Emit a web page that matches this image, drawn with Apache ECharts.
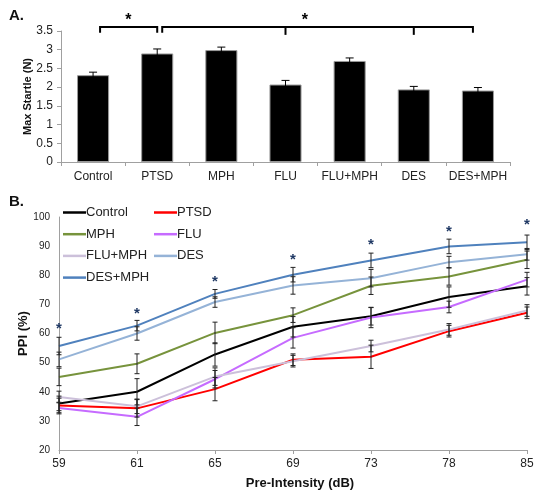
<!DOCTYPE html>
<html><head><meta charset="utf-8">
<script src="https://cdn.jsdelivr.net/npm/echarts@6/dist/echarts.min.js"></script>
<style>html,body{margin:0;padding:0;background:#fff}#c{width:537px;height:491px}</style>
</head><body><div id="c"></div>
<script>
// ---------- Panel A data ----------
const groupsA = ['Control','PTSD','MPH','FLU','FLU+MPH','DES','DES+MPH'];
const startleA = [2.32, 2.90, 2.99, 2.07, 2.70, 1.94, 1.91];
const startleErrA = [0.08, 0.12, 0.08, 0.11, 0.08, 0.08, 0.08];
const bracketFrom = [0, 1];
const bracketTo = [1, 6];
const bracketTicks = [[], [3, 5]];
const bracketStarPos = [0.55, 3.3];

// ---------- Panel B data ----------
const intensities = ['59','61','65','69','73','78','85'];
const ppiControl = [36.0, 40.0, 52.8, 62.3, 65.9, 72.5, 76.2];
const ppiPTSD    = [35.3, 34.3, 40.9, 51.0, 52.0, 60.8, 67.1];
const ppiMPH     = [45.1, 49.6, 60.2, 66.3, 76.4, 79.6, 85.3];
const ppiFLU     = [34.4, 31.4, 44.3, 58.5, 65.5, 69.1, 78.5];
const ppiFLUMPH  = [38.2, 35.0, 45.2, 50.5, 55.7, 61.4, 67.9];
const ppiDES     = [51.1, 60.0, 70.8, 76.5, 79.0, 84.5, 87.2];
const ppiDESMPH  = [55.7, 62.7, 73.6, 80.2, 85.1, 89.9, 91.3];
const errControl = [2.5, 4.5, 4.0, 3.5, 3.0, 3.5, 3.0];
const errPTSD    = [2.5, 3.0, 4.0, 2.0, 4.0, 2.0, 2.0];
const errMPH     = [3.0, 3.4, 3.7, 2.5, 3.0, 3.0, 3.0];
const errFLU     = [2.0, 3.0, 3.0, 3.5, 3.5, 2.0, 2.5];
const errFLUMPH  = [2.0, 2.5, 3.0, 2.0, 2.0, 2.0, 2.0];
const errDES     = [2.5, 2.3, 1.8, 3.0, 3.0, 2.0, 2.0];
const errDESMPH  = [3.0, 1.8, 1.5, 2.5, 2.5, 2.5, 2.5];
const starLevels = [63.0, 68.2, 79.0, 86.7, 91.9, 96.1, 98.7];

const FONT = 'Liberation Sans, Arial, sans-serif';
const seriesB = [
  {name:'Control', data: ppiControl, err: errControl, color:'#000000'},
  {name:'PTSD',    data: ppiPTSD,    err: errPTSD,    color:'#ff0000'},
  {name:'MPH',     data: ppiMPH,     err: errMPH,     color:'#77933c'},
  {name:'FLU',     data: ppiFLU,     err: errFLU,     color:'#c66bff'},
  {name:'FLU+MPH', data: ppiFLUMPH,  err: errFLUMPH,  color:'#ccc0da'},
  {name:'DES',     data: ppiDES,     err: errDES,     color:'#95b3d7'},
  {name:'DES+MPH', data: ppiDESMPH,  err: errDESMPH,  color:'#4f81bd'}
];

function errRender(capHalf, color) {
  return function (params, api) {
    const x = api.value(0), y = api.value(1), e = api.value(2);
    const hi = api.coord([x, y + e]);
    const lo = api.coord([x, y - e]);
    const st = {stroke: color, lineWidth: 1};
    return {type:'group', children:[
      {type:'line', shape:{x1:hi[0], y1:hi[1], x2:lo[0], y2:lo[1]}, style:st},
      {type:'line', shape:{x1:hi[0]-capHalf, y1:hi[1], x2:hi[0]+capHalf, y2:hi[1]}, style:st},
      {type:'line', shape:{x1:lo[0]-capHalf, y1:lo[1], x2:lo[0]+capHalf, y2:lo[1]}, style:st}
    ]};
  };
}

const series = [];
// Panel A bars
series.push({
  type:'bar', xAxisIndex:0, yAxisIndex:0, data: startleA, barWidth:'50%',
  itemStyle:{color:'#000', borderColor:'#9a9a9a', borderWidth:1}, silent:true
});
series.push({
  type:'custom', xAxisIndex:0, yAxisIndex:0, silent:true, z:5,
  data: startleA.map((v,i)=>[i, v, startleErrA[i]]),
  renderItem: errRender(4, '#000')
});
// brackets
series.push({
  type:'custom', xAxisIndex:0, yAxisIndex:0, silent:true, clip:false, z:6,
  data: bracketFrom.map((f,i)=>[f, bracketTo[i], i]),
  renderItem: function(params, api){
    const i = api.value(2);
    const a = api.coord([bracketFrom[i], 3.61]);
    const b = api.coord([bracketTo[i], 3.61]);
    const base = api.coord([0, 3.45]);
    const st = {stroke:'#000', lineWidth:2};
    const xa = a[0] + (i === 0 ? 7 : 5);
    const xb = b[0] - (i === 0 ? 0 : 5);
    const ch = [
      {type:'polyline', shape:{points:[[xa, base[1]],[xa, a[1]],[xb, a[1]],[xb, base[1]]]}, style:Object.assign({fill:null}, st)}
    ];
    bracketTicks[i].forEach(t=>{
      const p = api.coord([t, 3.61]);
      ch.push({type:'line', shape:{x1:p[0], y1:p[1], x2:p[0], y2:base[1]+2}, style:st});
    });
    const c0 = api.coord([Math.floor(bracketStarPos[i]), 3.87]);
    const c1 = api.coord([Math.floor(bracketStarPos[i])+1, 3.87]);
    const fr = bracketStarPos[i] - Math.floor(bracketStarPos[i]);
    ch.push({type:'text', style:{text:'*', x:c0[0]+(c1[0]-c0[0])*fr, y:c0[1]+3, textAlign:'center', textVerticalAlign:'middle', font:'bold 16px '+FONT, fill:'#000'}});
    return {type:'group', children:ch};
  }
});

// Panel B lines
seriesB.forEach(s=>{
  series.push({
    name:s.name, type:'line', xAxisIndex:1, yAxisIndex:1, data:s.data,
    symbol:'none', lineStyle:{color:s.color, width:2}, itemStyle:{color:s.color},
    silent:true, z:2
  });
});
seriesB.forEach(s=>{
  series.push({
    type:'custom', xAxisIndex:1, yAxisIndex:1, silent:true, z:4,
    data: s.data.map((v,i)=>[i, v, s.err[i]]),
    renderItem: errRender(2.5, '#222')
  });
});
// stars panel B
series.push({
  type:'custom', xAxisIndex:1, yAxisIndex:1, silent:true, clip:false, z:6,
  data: starLevels.map((v,i)=>[i, v]),
  renderItem: function(params, api){
    const p = api.coord([api.value(0), api.value(1)]);
    return {type:'text', style:{text:'*', x:p[0], y:p[1]+4, textAlign:'center', textVerticalAlign:'middle', font:'bold 15px '+FONT, fill:'#1f3864'}};
  }
});

const axisLine = {show:true, lineStyle:{color:'#a0a0a0', width:1}};
const legendCommon = {
  orient:'vertical', itemWidth:23, itemHeight:14, itemGap:8.7, icon:'path://M0,6 L23,6 L23,8.5 L0,8.5 Z',
  textStyle:{fontSize:13, fontFamily:FONT, color:'#222', padding:[0,0,0,-5]}, selectedMode:false, padding:0
};

const option = {
  animation:false,
  backgroundColor:'#fff',
  title:[
    {text:'A.', left:4, top:3, textStyle:{fontSize:15, fontWeight:'bold', fontFamily:FONT, color:'#111'}},
    {text:'B.', left:4, top:189, textStyle:{fontSize:15, fontWeight:'bold', fontFamily:FONT, color:'#111'}}
  ],
  legend:[
    Object.assign({left:63, top:206, data:['Control','MPH','FLU+MPH','DES+MPH']}, legendCommon),
    Object.assign({left:154, top:206, data:['PTSD','FLU','DES']}, legendCommon)
  ],
  grid:[
    {left:61, right:27, top:31, height:131},
    {left:59, right:10, top:217, height:234}
  ],
  xAxis:[
    {type:'category', gridIndex:0, data:groupsA, boundaryGap:true, axisLine:axisLine,
     axisTick:{show:true, length:4, lineStyle:{color:'#a0a0a0'}},
     axisLabel:{fontSize:12, fontFamily:FONT, color:'#222', margin:9, interval:0}},
    {type:'category', gridIndex:1, data:intensities, boundaryGap:false, axisLine:axisLine,
     axisTick:{show:true, length:4, lineStyle:{color:'#a0a0a0'}},
     axisLabel:{fontSize:12, fontFamily:FONT, color:'#222', margin:8},
     name:'Pre-Intensity (dB)', nameLocation:'middle', nameGap:27, nameMoveOverlap:false,
     nameTextStyle:{fontSize:13, fontWeight:'bold', fontFamily:FONT, color:'#111', padding:[0,0,0,14]}}
  ],
  yAxis:[
    {type:'value', gridIndex:0, min:0, max:3.5, interval:0.5, axisLine:axisLine,
     axisTick:{show:true, length:4, lineStyle:{color:'#a0a0a0'}}, splitLine:{show:false},
     axisLabel:{fontSize:12, fontFamily:FONT, color:'#222', margin:8},
     name:'Max Startle (N)', nameLocation:'middle', nameGap:28, nameRotate:90, nameMoveOverlap:false,
     nameTextStyle:{fontSize:11, fontWeight:'bold', fontFamily:FONT, color:'#111'}},
    {type:'value', gridIndex:1, min:20, max:100, interval:10, axisLine:axisLine,
     axisTick:{show:false}, splitLine:{show:false},
     axisLabel:{fontSize:10, fontFamily:FONT, color:'#222', margin:9},
     name:'PPI (%)', nameLocation:'middle', nameGap:29, nameRotate:90, nameMoveOverlap:false,
     nameTextStyle:{fontSize:13, fontWeight:'bold', fontFamily:FONT, color:'#111'}}
  ],
  series: series
};
const chart = echarts.init(document.getElementById('c'), null, {renderer:'canvas'});
chart.setOption(option);
</script></body></html>
